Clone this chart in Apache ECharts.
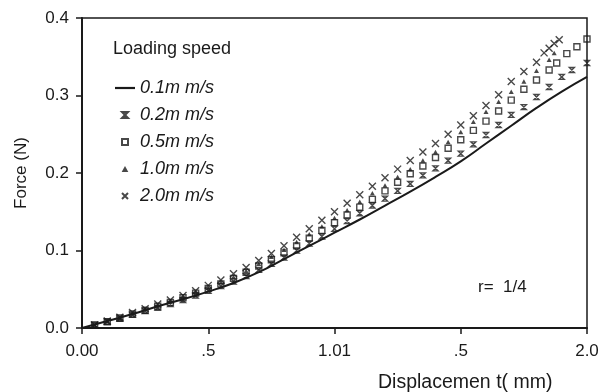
<!DOCTYPE html>
<html>
<head>
<meta charset="utf-8">
<script src="https://cdn.jsdelivr.net/npm/echarts@6/dist/echarts.min.js"></script>
<style>
  html, body { margin: 0; padding: 0; background: #fff; }
  #container { width: 610px; height: 392px; }
</style>
</head>
<body>
<div id="container"></div>
<script type="text/javascript">
// tick labels as printed on the figure
var xTickLabels = ['0.00', '.5', '1.01', '.5', '2.0'];
var yTickLabels = ['0.0', '0.1', '0.2', '0.3', '0.4'];

var seriesNames = ['0.1m m/s', '0.2m m/s', '0.5m m/s', '1.0m m/s', '2.0m m/s'];

// 0.1 mm/s - solid line
var x01 = [0, 0.1, 0.2, 0.3, 0.4, 0.5, 0.6, 0.7, 0.8, 0.9, 1.0, 1.1, 1.2, 1.3, 1.4, 1.5, 1.6, 1.7, 1.8, 1.9, 2.0];
var y01 = [0, 0.009, 0.018, 0.028, 0.037, 0.047, 0.058, 0.072, 0.089, 0.106, 0.123, 0.140, 0.158, 0.176, 0.195, 0.215, 0.238, 0.261, 0.284, 0.305, 0.324];

// 0.2 mm/s
var x02 = [0.05, 0.10, 0.15, 0.20, 0.25, 0.30, 0.35, 0.40, 0.45, 0.50, 0.55, 0.60, 0.65, 0.70, 0.75, 0.80, 0.85, 0.90, 0.95, 1.00,
           1.05, 1.10, 1.15, 1.20, 1.25, 1.30, 1.35, 1.40, 1.45, 1.50, 1.55, 1.60, 1.65, 1.70, 1.75, 1.80, 1.85, 1.90, 1.94, 2.00];
var y02 = [0.004, 0.008, 0.012, 0.017, 0.022, 0.026, 0.031, 0.036, 0.042, 0.048, 0.054, 0.060, 0.067, 0.075, 0.083, 0.091, 0.100, 0.109, 0.118, 0.128,
           0.138, 0.148, 0.158, 0.167, 0.177, 0.186, 0.197, 0.206, 0.216, 0.225, 0.237, 0.249, 0.262, 0.275, 0.285, 0.298, 0.311, 0.324, 0.333, 0.342];

// 0.5 mm/s
var x05 = [0.05, 0.10, 0.15, 0.20, 0.25, 0.30, 0.35, 0.40, 0.45, 0.50, 0.55, 0.60, 0.65, 0.70, 0.75, 0.80, 0.85, 0.90, 0.95, 1.00,
           1.05, 1.10, 1.15, 1.20, 1.25, 1.30, 1.35, 1.40, 1.45, 1.50, 1.55, 1.60, 1.65, 1.70, 1.75, 1.80, 1.85, 1.88, 1.92, 1.96, 2.00];
var y05 = [0.004, 0.008, 0.013, 0.018, 0.023, 0.028, 0.033, 0.039, 0.045, 0.051, 0.057, 0.064, 0.072, 0.080, 0.088, 0.097, 0.106, 0.116, 0.126, 0.136,
           0.146, 0.156, 0.166, 0.177, 0.188, 0.199, 0.209, 0.220, 0.232, 0.243, 0.255, 0.267, 0.280, 0.294, 0.308, 0.320, 0.333, 0.342, 0.354, 0.363, 0.373];

// 1.0 mm/s
var x10 = [0.05, 0.10, 0.15, 0.20, 0.25, 0.30, 0.35, 0.40, 0.45, 0.50, 0.55, 0.60, 0.65, 0.70, 0.75, 0.80, 0.85, 0.90, 0.95, 1.00,
           1.05, 1.10, 1.15, 1.20, 1.25, 1.30, 1.35, 1.40, 1.45, 1.50, 1.55, 1.60, 1.65, 1.70, 1.75, 1.80, 1.85, 1.87];
var y10 = [0.004, 0.009, 0.013, 0.019, 0.024, 0.029, 0.035, 0.040, 0.046, 0.052, 0.059, 0.066, 0.074, 0.083, 0.092, 0.101, 0.111, 0.121, 0.131, 0.142,
           0.152, 0.163, 0.174, 0.184, 0.195, 0.205, 0.216, 0.227, 0.240, 0.253, 0.266, 0.279, 0.292, 0.305, 0.318, 0.332, 0.346, 0.355];

// 2.0 mm/s
var x20 = [0.05, 0.10, 0.15, 0.20, 0.25, 0.30, 0.35, 0.40, 0.45, 0.50, 0.55, 0.60, 0.65, 0.70, 0.75, 0.80, 0.85, 0.90, 0.95, 1.00,
           1.05, 1.10, 1.15, 1.20, 1.25, 1.30, 1.35, 1.40, 1.45, 1.50, 1.55, 1.60, 1.65, 1.70, 1.75, 1.80, 1.83, 1.85, 1.87, 1.89];
var y20 = [0.004, 0.009, 0.014, 0.020, 0.025, 0.031, 0.036, 0.042, 0.048, 0.055, 0.062, 0.070, 0.078, 0.087, 0.096, 0.106, 0.117, 0.128, 0.139, 0.150,
           0.161, 0.172, 0.183, 0.194, 0.205, 0.216, 0.227, 0.238, 0.250, 0.262, 0.274, 0.287, 0.301, 0.318, 0.331, 0.343, 0.355, 0.361, 0.367, 0.372];

function pairs(xs, ys) {
    var res = [];
    for (var i = 0; i < xs.length; i++) {
        res.push([xs[i], ys[i]]);
    }
    return res;
}

var FONT = 'Liberation Sans, Arial, sans-serif';
var INK = '#1a1a1a';

var dom = document.getElementById('container');
var myChart = echarts.init(dom, null, { renderer: 'canvas' });

var strokeOnly = { color: 'rgba(0,0,0,0)', borderColor: INK, borderWidth: 1.4 };

var option = {
    backgroundColor: '#fff',
    animation: false,
    title: [
        {
            text: 'Loading speed',
            left: 113, top: 40, padding: 0,
            textStyle: { fontFamily: FONT, fontSize: 18, fontWeight: 'normal', color: INK }
        },
        {
            text: 'r=  1/4',
            left: 478, top: 279, padding: 0,
            textStyle: { fontFamily: FONT, fontSize: 17, fontWeight: 'normal', color: INK }
        }
    ],
    legend: {
        orient: 'vertical',
        left: 115, top: 79, padding: 0,
        itemWidth: 20, itemHeight: 6,
        itemGap: 9,
        symbolKeepAspect: true,
        data: [
            { name: seriesNames[0], icon: 'path://M0,0L20,0L20,2.2L0,2.2Z' },
            seriesNames[1], seriesNames[2], seriesNames[3], seriesNames[4]
        ],
        textStyle: { fontFamily: FONT, fontSize: 18, fontStyle: 'italic', color: INK, lineHeight: 18 }
    },
    grid: {
        left: 82, right: 23, top: 18, bottom: 64,
        show: true, borderColor: INK, borderWidth: 1.5
    },
    xAxis: {
        type: 'value', min: 0, max: 2, interval: 0.5,
        axisLine: { lineStyle: { color: INK, width: 2 } },
        axisTick: { show: true, inside: false, length: 6, lineStyle: { color: INK, width: 1.5 } },
        splitLine: { show: false },
        axisLabel: {
            margin: 15, color: INK, fontFamily: FONT, fontSize: 17,
            formatter: function (v) { return xTickLabels[Math.round(v / 0.5)]; }
        }
    },
    yAxis: {
        type: 'value', min: 0, max: 0.4, interval: 0.1,
        name: 'Force (N)', nameLocation: 'middle', nameGap: 52, nameRotate: 90,
        nameTextStyle: { fontFamily: FONT, fontSize: 17, color: INK },
        axisLine: { lineStyle: { color: INK, width: 2 } },
        axisTick: { show: true, inside: false, length: 6, lineStyle: { color: INK, width: 1.5 } },
        splitLine: { show: false },
        axisLabel: {
            margin: 13, color: INK, fontFamily: FONT, fontSize: 17,
            formatter: function (v) { return yTickLabels[Math.round(v / 0.1)]; }
        }
    },
    graphic: [
        {
            type: 'text', left: 378, top: 373,
            style: { text: 'Displacemen t( mm)', font: '19.5px ' + FONT, fill: INK }
        }
    ],
    series: [
        {
            name: seriesNames[0], type: 'line', data: pairs(x01, y01),
            symbol: 'none', smooth: true,
            lineStyle: { color: INK, width: 2 }, itemStyle: { color: INK }, z: 5
        },
        {
            name: seriesNames[1], type: 'scatter', data: pairs(x02, y02),
            symbol: 'path://M0,0L10,0L0,10L10,10Z', symbolSize: 5, symbolKeepAspect: true,
            itemStyle: strokeOnly
        },
        {
            name: seriesNames[2], type: 'scatter', data: pairs(x05, y05),
            symbol: 'path://M0,0L10,0L10,10L0,10Z', symbolSize: 6, symbolKeepAspect: true,
            itemStyle: strokeOnly
        },
        {
            name: seriesNames[3], type: 'scatter', data: pairs(x10, y10),
            symbol: 'path://M5,0L10,9L0,9Z', symbolSize: 5, symbolKeepAspect: true,
            itemStyle: { color: INK }
        },
        {
            name: seriesNames[4], type: 'scatter', data: pairs(x20, y20),
            symbol: 'path://M0,0L10,10M10,0L0,10', symbolSize: 7, symbolKeepAspect: true,
            itemStyle: strokeOnly
        }
    ]
};

if (option && typeof option === 'object') {
    myChart.setOption(option, true);
}
</script>
</body>
</html>
